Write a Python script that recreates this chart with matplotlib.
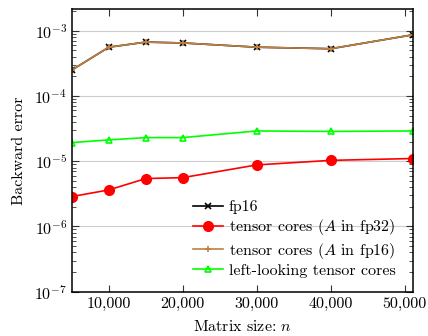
import matplotlib
matplotlib.use("Agg")
import matplotlib.pyplot as plt
import matplotlib.ticker as mticker
import numpy as np

plt.rcParams['font.family'] = 'serif'
plt.rcParams['font.serif'] = ['cmr10']
plt.rcParams['mathtext.fontset'] = 'cm'
plt.rcParams['axes.formatter.use_mathtext'] = True

# data
n = [5000, 10000, 15000, 20000, 30000, 40000, 51200]
fp16 = [2.5e-4, 5.6e-4, 6.7e-4, 6.5e-4, 5.6e-4, 5.3e-4, 8.7e-4]
tc_fp32 = [2.87e-6, 3.63e-6, 5.42e-6, 5.6e-6, 8.77e-6, 1.03e-5, 1.1e-5]
tc_fp16 = [2.5e-4, 5.6e-4, 6.7e-4, 6.5e-4, 5.6e-4, 5.3e-4, 8.7e-4]
left_tc = [1.93e-5, 2.12e-5, 2.3e-5, 2.3e-5, 2.91e-5, 2.86e-5, 2.91e-5]

brown = (0.75, 0.5, 0.25)
fs = 11.5

fig = plt.figure(figsize=(4.28, 3.36), dpi=100)
ax = fig.add_axes([0.168, 0.132, 0.798, 0.841])

ax.plot(n, fp16, color='black', marker='x', markersize=4, mew=1.2, lw=1.2, label='fp16')
ax.plot(n, tc_fp32, color='red', marker='o', markersize=7, lw=1.2, label='tensor cores ($A$ in fp32)')
ax.plot(n, tc_fp16, color=brown, marker='+', markersize=5, mew=1.2, lw=1.2, label='tensor cores ($A$ in fp16)')
ax.plot(n, left_tc, color='#00ff00', marker='^', markersize=5, mfc='none', mew=1.2, lw=1.2,
        label='left-looking tensor cores')

ax.set_yscale('log')
ax.set_xlim(5000, 51200)
ax.set_ylim(1e-7, 2.15e-3)
ax.set_xticks([10000, 20000, 30000, 40000, 50000])
ax.xaxis.set_major_formatter(mticker.FuncFormatter(lambda v, p: f'{int(v):,}'))
ax.yaxis.set_major_locator(mticker.LogLocator(base=10, numticks=10))
ax.yaxis.set_minor_locator(mticker.LogLocator(base=10, subs=np.arange(2, 10), numticks=20))
ax.yaxis.set_minor_formatter(mticker.NullFormatter())
ax.tick_params(which='both', direction='in', top=True, right=True, labelsize=fs, color='#333333')
ax.tick_params(which='major', length=5)
ax.tick_params(which='minor', length=3)
ax.grid(True, axis='y', which='major', color='#cccccc', lw=0.8)
for s in ax.spines.values():
    s.set_linewidth(1.1)

ax.set_xlabel('Matrix size: $n$', fontsize=fs, labelpad=6)
ax.set_ylabel('Backward error', fontsize=fs, labelpad=6)

ax.legend(loc='lower left', bbox_to_anchor=(0.33, 0.02), frameon=False, fontsize=fs,
          handlelength=1.9, handletextpad=0.35, labelspacing=0.2, borderpad=0)

fig.savefig('out.png', dpi=100)
